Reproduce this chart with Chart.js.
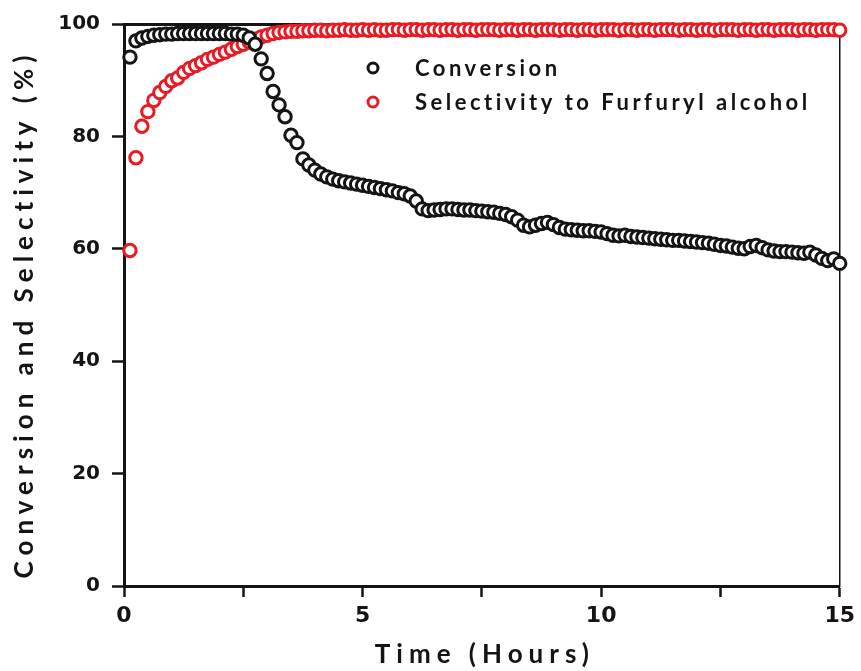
<!DOCTYPE html>
<html>
<head>
<meta charset="utf-8">
<script src="https://cdn.jsdelivr.net/npm/chart.js@4.4.1/dist/chart.umd.min.js"></script>
<style>
  html, body { margin: 0; padding: 0; background: #fff; }
  #wrap { position: relative; width: 861px; height: 671px; }
</style>
</head>
<body>
<div id="wrap"><canvas id="convChart" width="861" height="671"></canvas></div>
<script>
// time on stream (hours), one reading every 7.5 min
const timeHours = [
    0.125, 0.25, 0.375, 0.5, 0.625, 0.75, 0.875, 1,
    1.125, 1.25, 1.375, 1.5, 1.625, 1.75, 1.875, 2,
    2.125, 2.25, 2.375, 2.5, 2.625, 2.75, 2.875, 3,
    3.125, 3.25, 3.375, 3.5, 3.625, 3.75, 3.875, 4,
    4.125, 4.25, 4.375, 4.5, 4.625, 4.75, 4.875, 5,
    5.125, 5.25, 5.375, 5.5, 5.625, 5.75, 5.875, 6,
    6.125, 6.25, 6.375, 6.5, 6.625, 6.75, 6.875, 7,
    7.125, 7.25, 7.375, 7.5, 7.625, 7.75, 7.875, 8,
    8.125, 8.25, 8.375, 8.5, 8.625, 8.75, 8.875, 9,
    9.125, 9.25, 9.375, 9.5, 9.625, 9.75, 9.875, 10,
    10.125, 10.25, 10.375, 10.5, 10.625, 10.75, 10.875, 11,
    11.125, 11.25, 11.375, 11.5, 11.625, 11.75, 11.875, 12,
    12.125, 12.25, 12.375, 12.5, 12.625, 12.75, 12.875, 13,
    13.125, 13.25, 13.375, 13.5, 13.625, 13.75, 13.875, 14,
    14.125, 14.25, 14.375, 14.5, 14.625, 14.75, 14.875, 15
];

const conversion = [
    94.1, 97.0, 97.5, 97.8, 98.0, 98.1, 98.2, 98.2,
    98.3, 98.3, 98.3, 98.3, 98.3, 98.3, 98.3, 98.3,
    98.3, 98.2, 98.2, 98.0, 97.5, 96.4, 93.8, 91.2,
    88.0, 85.6, 83.5, 80.2, 78.9, 76.0, 74.9, 74.0,
    73.3, 72.8, 72.4, 72.1, 71.9, 71.7, 71.5, 71.3,
    71.1, 70.9, 70.7, 70.5, 70.3, 70.0, 69.8, 69.4,
    68.5, 67.1, 66.8, 66.9, 67.0, 67.1, 67.1, 67.0,
    66.9, 66.9, 66.8, 66.7, 66.6, 66.5, 66.3, 66.1,
    65.7, 65.1, 64.2, 63.9, 64.2, 64.5, 64.7, 64.3,
    63.8, 63.5, 63.4, 63.3, 63.2, 63.2, 63.1, 63.0,
    62.7, 62.4, 62.3, 62.4, 62.2, 62.1, 62.0, 61.9,
    61.8, 61.7, 61.6, 61.5, 61.5, 61.4, 61.3, 61.2,
    61.1, 61.0, 60.8, 60.6, 60.5, 60.3, 60.1, 60.0,
    60.4, 60.6, 60.2, 59.8, 59.6, 59.5, 59.5, 59.4,
    59.3, 59.2, 59.4, 58.9, 58.3, 57.9, 58.2, 57.4
];

const selectivity = [
    59.7, 76.2, 81.8, 84.4, 86.4, 87.8, 88.9, 89.9,
    90.4, 91.4, 92.1, 92.6, 93.1, 93.7, 94.1, 94.6,
    95.0, 95.5, 96.0, 96.4, 96.8, 97.3, 97.7, 98.0,
    98.3, 98.5, 98.6, 98.7, 98.7, 98.8, 98.8, 98.9,
    98.9, 98.8, 98.9, 98.9, 99.0, 98.9, 98.9, 99.0,
    98.9, 99.0, 98.9, 98.9, 99.0, 99.0, 98.9, 99.0,
    99.0, 98.9, 99.0, 99.0, 98.9, 99.0, 99.0, 98.9,
    99.0, 99.0, 98.9, 99.0, 99.0, 99.0, 98.9, 99.0,
    99.0, 98.9, 99.0, 99.0, 98.9, 99.0, 99.0, 99.0,
    98.9, 99.0, 99.0, 98.9, 99.0, 99.0, 98.9, 99.0,
    99.0, 99.0, 98.9, 99.0, 99.0, 98.9, 99.0, 99.0,
    98.9, 99.0, 99.0, 99.0, 98.9, 99.0, 99.0, 98.9,
    99.0, 99.0, 98.9, 99.0, 99.0, 99.0, 98.9, 99.0,
    99.0, 98.9, 99.0, 99.0, 98.9, 99.0, 99.0, 99.0,
    98.9, 99.0, 99.0, 98.9, 99.0, 99.0, 99.0, 98.9
];

const seriesNames = ['Conversion', 'Selectivity to Furfuryl alcohol'];
const xTicks = [0, 5, 10, 15];
const xMinorTicks = [2.5, 7.5, 12.5];
const yTicks = [0, 20, 40, 60, 80, 100];
const xTitle = 'Time (Hours)';
const yTitle = 'Conversion and Selectivity (%)';

const INK = '#141414';
const RED = '#ea1a22';

function toPoints(values) {
    return timeHours.map((t, i) => ({ x: t, y: values[i] }));
}

// axis titles and the inner legend are letter-spaced in the original,
// chart.js has no option for that so they are painted here
const spacedText = {
    id: 'spacedText',
    afterDraw(chart) {
        const { ctx, chartArea } = chart;
        ctx.save();
        ctx.fillStyle = INK;
        ctx.textBaseline = 'middle';
        ctx.textAlign = 'center';

        ctx.font = 'bold 26px Lato';
        ctx.letterSpacing = '6px';
        ctx.fillText(xTitle, (chartArea.left + chartArea.right) / 2 + 3, 655);

        ctx.save();
        ctx.translate(25, (chartArea.top + chartArea.bottom) / 2 + 9);
        ctx.rotate(-Math.PI / 2);
        ctx.font = 'bold 26px Lato';
        ctx.letterSpacing = '6px';
        ctx.fillText(yTitle, 0, 0);
        ctx.restore();

        // legend
        ctx.textAlign = 'left';
        ctx.font = 'bold 22px Lato';
        ctx.letterSpacing = '3.5px';
        chart.data.datasets.forEach((ds, i) => {
            const y = 68 + i * 34;
            ctx.beginPath();
            ctx.arc(373, y, 5, 0, Math.PI * 2);
            ctx.lineWidth = 3;
            ctx.strokeStyle = ds.borderColor;
            ctx.stroke();
            ctx.fillStyle = INK;
            ctx.fillText(ds.label, 415, y + 1);
        });
        ctx.restore();
    }
};

const ctx = document.getElementById('convChart').getContext('2d');

new Chart(ctx, {
    type: 'scatter',
    data: {
        datasets: [
            {
                label: seriesNames[0],
                data: toPoints(conversion),
                borderColor: INK,
                backgroundColor: '#ffffff',
                pointRadius: 6.2,
                pointBorderWidth: 3,
                clip: false
            },
            {
                label: seriesNames[1],
                data: toPoints(selectivity),
                borderColor: RED,
                backgroundColor: '#ffffff',
                pointRadius: 6.2,
                pointBorderWidth: 3,
                clip: false
            }
        ]
    },
    options: {
        responsive: false,
        animation: false,
        layout: { padding: { top: 18, right: 18, left: 0, bottom: 0 } },
        plugins: {
            legend: { display: false },
            tooltip: { enabled: false }
        },
        scales: {
            x: {
                type: 'linear',
                position: 'bottom',
                min: 0,
                max: 15,
                afterFit(scale) { scale.height = 85; },
                afterBuildTicks(scale) {
                    scale.ticks = xTicks.concat(xMinorTicks).sort((a, b) => a - b).map(v => ({ value: v }));
                },
                ticks: {
                    font: { family: 'DejaVu Sans', weight: 'bold', size: 22 },
                    color: INK,
                    padding: 6,
                    maxRotation: 0,
                    callback: v => (xTicks.includes(v) ? String(v) : '')
                },
                grid: {
                    drawOnChartArea: false,
                    drawTicks: true,
                    tickLength: 11,
                    tickWidth: 2.5,
                    tickColor: INK,
                    color: INK
                },
                border: { display: true, color: INK, width: 3 }
            },
            y: {
                type: 'linear',
                position: 'left',
                min: 0,
                max: 100,
                afterFit(scale) { scale.width = 124; },
                afterBuildTicks(scale) {
                    scale.ticks = yTicks.map(v => ({ value: v }));
                },
                ticks: {
                    font: { family: 'DejaVu Sans', weight: 'bold', size: 20 },
                    color: INK,
                    padding: 12
                },
                grid: {
                    drawOnChartArea: false,
                    drawTicks: true,
                    tickLength: 12,
                    tickWidth: 2.5,
                    tickColor: INK,
                    color: INK
                },
                border: { display: true, color: INK, width: 3 }
            },
            xTop: {
                type: 'linear',
                position: 'top',
                min: 0,
                max: 15,
                afterFit(scale) { scale.height = 0; },
                ticks: { display: false },
                grid: { display: false, drawTicks: false },
                border: { display: true, color: INK, width: 3 }
            },
            yRight: {
                type: 'linear',
                position: 'right',
                min: 0,
                max: 100,
                afterFit(scale) { scale.width = 0; },
                ticks: { display: false },
                grid: { display: false, drawTicks: false },
                border: { display: true, color: INK, width: 1.5 }
            }
        }
    },
    plugins: [spacedText]
});
</script>
</body>
</html>
